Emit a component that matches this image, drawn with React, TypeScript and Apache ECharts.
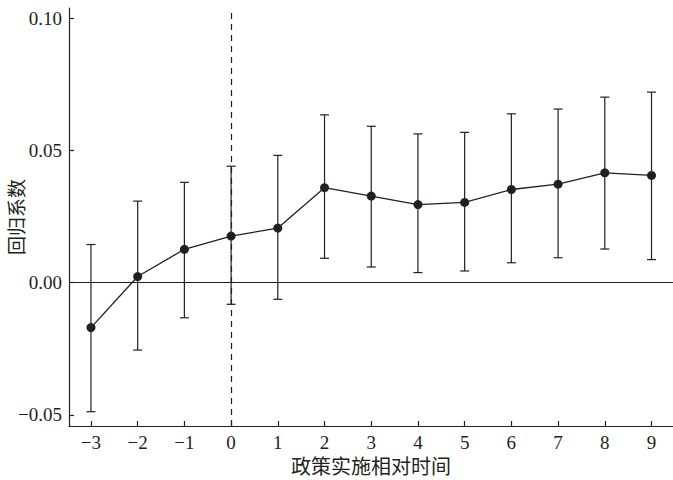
import React, { useEffect, useRef } from "react";
import * as echarts from "echarts";

const periods = [-3, -2, -1, 0, 1, 2, 3, 4, 5, 6, 7, 8, 9];
const coef = [-0.017, 0.0023, 0.0126, 0.0176, 0.0206, 0.0359, 0.0327, 0.0295, 0.0303, 0.0352, 0.0372, 0.0415, 0.0405];
const upper = [0.0144, 0.0308, 0.0379, 0.044, 0.0481, 0.0634, 0.0591, 0.0562, 0.0568, 0.0638, 0.0656, 0.0701, 0.072];
const lower = [-0.0488, -0.0255, -0.0133, -0.0082, -0.0063, 0.0092, 0.0059, 0.0038, 0.0044, 0.0075, 0.0094, 0.0127, 0.0087];
const yTicks = [-0.05, 0, 0.05, 0.1];
const xTitle = "政策实施相对时间";
const yTitle = "回归系数";

const FONT = "Liberation Serif, Times New Roman, Noto Sans CJK SC, serif";
const INK = "#231f20";

const fmtNum = (v: number, d: number) => (v < 0 ? "\u2212" + Math.abs(v).toFixed(d) : v.toFixed(d));

export default function App() {
  const ref = useRef<HTMLDivElement>(null);
  useEffect(() => {
    if (!ref.current) return;
    const chart = echarts.init(ref.current, null, { renderer: "svg" });
    const errData = periods.map((p, i) => [p, lower[i], upper[i]]);
    chart.setOption({
      animation: false,
      backgroundColor: "#ffffff",
      grid: { left: 69, right: 0, top: 8, bottom: 54, containLabel: false, outerBoundsMode: "none" },
      xAxis: {
        type: "value",
        min: -3.47,
        max: 9.46,
        name: xTitle,
        nameLocation: "middle",
        nameGap: 31,
        nameTextStyle: { fontFamily: FONT, fontSize: 20, color: INK },
        axisLine: { show: true, onZero: false, lineStyle: { color: INK, width: 1.2 } },
        axisTick: { show: true, inside: true, length: 5, lineStyle: { color: INK, width: 1.2 }, customValues: periods },
        axisLabel: {
          fontFamily: FONT,
          fontSize: 19,
          color: INK,
          margin: 7,
          customValues: periods,
          formatter: (v: number) => fmtNum(v, 0),
        },
        splitLine: { show: false },
      },
      yAxis: {
        type: "value",
        min: -0.0542,
        max: 0.1038,
        name: yTitle,
        nameLocation: "middle",
        nameGap: 42,
        nameRotate: 90,
        nameMoveOverlap: false,
        nameTextStyle: { fontFamily: FONT, fontSize: 19, color: INK },
        axisLine: { show: true, onZero: false, lineStyle: { color: INK, width: 1.2 } },
        axisTick: { show: true, inside: true, length: 5, lineStyle: { color: INK, width: 1.2 }, customValues: yTicks },
        axisLabel: {
          fontFamily: FONT,
          fontSize: 19,
          color: INK,
          margin: 7,
          customValues: yTicks,
          formatter: (v: number) => fmtNum(v, 2),
        },
        splitLine: { show: false },
      },
      series: [
        {
          type: "line",
          data: [],
          silent: true,
          markLine: {
            symbol: "none",
            silent: true,
            label: { show: false },
            data: [
              { yAxis: 0, lineStyle: { type: "solid", color: INK, width: 1.2 } },
              { xAxis: 0, lineStyle: { type: [6, 5], color: INK, width: 1.2 } },
            ],
          },
        },
        {
          type: "custom",
          data: errData,
          silent: true,
          z: 3,
          renderItem: (params: any, api: any) => {
            const x = api.value(0);
            const lo = api.coord([x, api.value(1)]);
            const hi = api.coord([x, api.value(2)]);
            const hw = 4.5;
            const style = { stroke: INK, lineWidth: 1.2 };
            return {
              type: "group",
              children: [
                { type: "line", shape: { x1: lo[0], y1: lo[1], x2: hi[0], y2: hi[1] }, style },
                { type: "line", shape: { x1: hi[0] - hw, y1: hi[1], x2: hi[0] + hw, y2: hi[1] }, style },
                { type: "line", shape: { x1: lo[0] - hw, y1: lo[1], x2: lo[0] + hw, y2: lo[1] }, style },
              ],
            };
          },
        },
        {
          type: "line",
          data: periods.map((p, i) => [p, coef[i]]),
          symbol: "circle",
          symbolSize: 9,
          z: 4,
          lineStyle: { color: INK, width: 1.3 },
          itemStyle: { color: INK },
          silent: true,
        },
      ],
    });
    return () => chart.dispose();
  }, []);
  return <div ref={ref} style={{ position: "absolute", left: 0, top: 0, width: 673, height: 480 }} />;
}
